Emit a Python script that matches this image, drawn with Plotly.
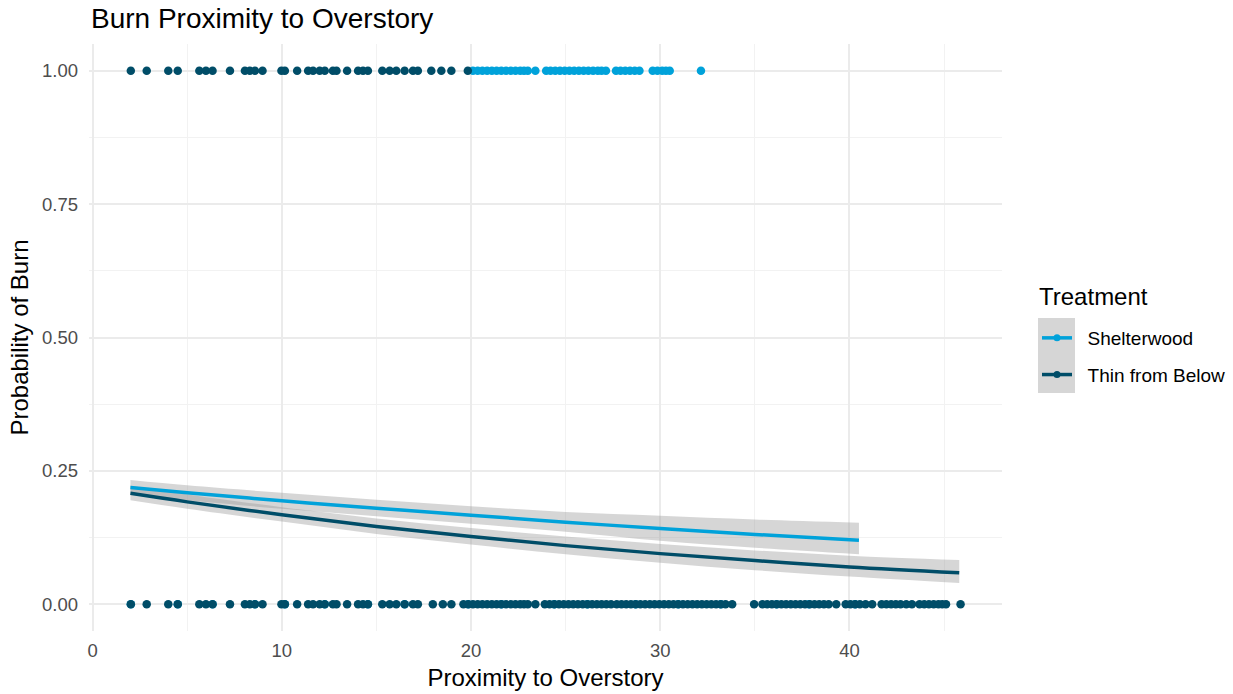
import plotly.graph_objects as go

# ---------------- data ----------------
thin_one = [2.02, 2.86, 4.0, 4.5, 5.64, 5.99, 6.34, 7.26, 8.05, 8.31, 8.58, 8.98, 9.98, 10.16,
            10.81, 11.39, 11.65, 12.0, 12.27, 12.7, 12.89, 13.45, 14.03, 14.29, 14.55, 15.31,
            15.7, 16.05, 16.49, 16.93, 17.19, 17.9, 18.43, 18.96, 19.83]

shelter_one = [20.1, 20.35, 20.6, 20.85, 21.1, 21.35, 21.6, 21.85, 22.1, 22.35, 22.6, 22.8, 23.0,
               23.4,
               23.97, 24.2, 24.45, 24.7, 24.95, 25.2, 25.45, 25.7, 25.95, 26.2, 26.45, 26.7, 26.9, 27.13,
               27.66, 27.9, 28.15, 28.4, 28.65, 28.9,
               29.6, 29.85, 30.1, 30.3, 30.5,
               32.15]

thin_zero = [2.02, 2.86, 4.0, 4.5, 5.64, 5.99, 6.34, 7.26, 8.05, 8.31, 8.58, 8.98, 9.98, 10.16,
             10.81, 11.39, 11.65, 12.0, 12.27, 12.7, 12.89, 13.45, 14.03, 14.29, 14.55, 15.31,
             15.7, 16.05, 16.49, 16.93, 17.19, 17.98, 18.51, 18.96,
             19.6, 19.85, 20.1, 20.35, 20.6, 20.85, 21.1, 21.35, 21.6, 21.85, 22.1, 22.35, 22.6, 22.8, 23.0,
             23.4,
             23.9, 24.15, 24.4, 24.65, 24.9, 25.15, 25.4, 25.65, 25.9, 26.15, 26.4, 26.65, 26.9, 27.15, 27.4,
             27.7, 27.95, 28.2, 28.45, 28.7, 28.95, 29.2, 29.45, 29.7, 29.95, 30.2, 30.45, 30.7, 30.95,
             31.2, 31.45, 31.7, 31.95, 32.2, 32.45, 32.7, 32.95, 33.2, 33.45, 33.8,
             34.96,
             35.4, 35.65, 35.9, 36.15, 36.4, 36.65, 36.9, 37.15, 37.4, 37.65, 37.9, 38.15, 38.4, 38.65, 38.9,
             39.3,
             39.8, 40.05, 40.3, 40.55, 40.85,
             41.2,
             41.7, 41.95, 42.2, 42.45, 42.7, 43.0, 43.3,
             43.7, 43.95, 44.2, 44.45, 44.7, 44.9, 45.1,
             45.87]

shelter_zero = [2.02, 4.5, 6.34, 8.58, 10.16, 12.27, 14.55, 16.49, 19.85, 21.6, 24.4, 26.15,
                28.7, 30.95, 33.2, 36.15, 37.85, 40.3]

# fitted logistic curves with confidence bands
shelter_fit_x = [2, 5, 10, 15, 20, 25, 30, 35, 40.5]
shelter_fit = [0.219, 0.209, 0.194, 0.180, 0.167, 0.154, 0.142, 0.131, 0.120]
shelter_lo = [0.205, 0.195, 0.179, 0.165, 0.151, 0.136, 0.119, 0.106, 0.094]
shelter_hi = [0.233, 0.223, 0.209, 0.196, 0.184, 0.173, 0.166, 0.159, 0.153]

thin_fit_x = [2, 5, 10, 15, 20, 25, 30, 35, 40, 45.8]
thin_fit = [0.208, 0.192, 0.168, 0.146, 0.127, 0.110, 0.095, 0.082, 0.070, 0.059]
thin_lo = [0.195, 0.179, 0.155, 0.132, 0.112, 0.094, 0.078, 0.064, 0.052, 0.040]
thin_hi = [0.222, 0.206, 0.182, 0.161, 0.143, 0.127, 0.113, 0.101, 0.091, 0.083]

series_names = ["Shelterwood", "Thin from Below"]
colors = {"Shelterwood": "#00A2DA", "Thin from Below": "#004D68"}
band_color = "rgba(153,153,153,0.4)"

x_ticks = [0, 10, 20, 30, 40]
y_ticks = [0, 0.25, 0.5, 0.75, 1.0]
y_tick_labels = ["0.00", "0.25", "0.50", "0.75", "1.00"]

FONT = "Liberation Sans"
W, H = 1233, 694
L, R, T, B = 89, 231, 44, 63
PW, PH = W - L - R, H - T - B

# ---------------- figure ----------------
fig = go.Figure()

# points
fig.add_trace(go.Scatter(x=shelter_one + shelter_zero,
                         y=[1] * len(shelter_one) + [0] * len(shelter_zero),
                         mode="markers", marker=dict(color=colors["Shelterwood"], size=8.5),
                         showlegend=False, hoverinfo="skip"))
fig.add_trace(go.Scatter(x=thin_one + thin_zero,
                         y=[1] * len(thin_one) + [0] * len(thin_zero),
                         mode="markers", marker=dict(color=colors["Thin from Below"], size=8.5),
                         showlegend=False, hoverinfo="skip"))

# bands
for fx, lo, hi in [(shelter_fit_x, shelter_lo, shelter_hi), (thin_fit_x, thin_lo, thin_hi)]:
    fig.add_trace(go.Scatter(x=fx, y=lo, mode="lines", line=dict(width=0, shape="spline"),
                             showlegend=False, hoverinfo="skip"))
    fig.add_trace(go.Scatter(x=fx, y=hi, mode="lines", line=dict(width=0, shape="spline"),
                             fill="tonexty", fillcolor=band_color,
                             showlegend=False, hoverinfo="skip"))

# fit lines
for name, fx, fy in [("Shelterwood", shelter_fit_x, shelter_fit),
                     ("Thin from Below", thin_fit_x, thin_fit)]:
    fig.add_trace(go.Scatter(x=fx, y=fy, mode="lines",
                             line=dict(color=colors[name], width=3.5, shape="spline"),
                             showlegend=False))

# legend entries (leading spaces mimic ggplot's key-to-label gap)
for name in series_names:
    fig.add_trace(go.Scatter(x=[None], y=[None], mode="lines+markers",
                             name="\u00a0\u00a0" + name,
                             legendgroup=name,
                             line=dict(color=colors[name], width=3.5),
                             marker=dict(color=colors[name], size=7)))

# gray legend key background
fig.add_shape(type="rect", xref="paper", yref="paper",
              x0=(1038 - L) / PW, x1=(1075 - L) / PW,
              y0=(H - B - 393) / PH, y1=(H - B - 318) / PH,
              fillcolor="#D6D6D6", line=dict(width=0), layer="below")

# legend title as annotation
fig.add_annotation(text="Treatment", xref="paper", yref="paper",
                   x=(1037 - L) / PW, xanchor="left",
                   y=(H - B - 296) / PH, yanchor="middle", showarrow=False,
                   font=dict(size=24, family=FONT, color="#000000"))

axis_common = dict(showline=False, zeroline=False, ticks="",
                   gridcolor="#EBEBEB", gridwidth=1.6,
                   minor=dict(showgrid=True, gridcolor="#F2F2F2", gridwidth=0.8),
                   tickfont=dict(size=18.5, color="#4D4D4D", family=FONT),
                   title_font=dict(size=24, color="#000000", family=FONT))

fig.update_xaxes(range=[-0.19, 48.06], tickvals=x_ticks,
                 minor_tickvals=[5, 15, 25, 35, 45], ticklabelstandoff=6,
                 title_text="Proximity to Overstory", title_standoff=9, **axis_common)
fig.update_yaxes(range=[-0.05, 1.05], tickvals=y_ticks, ticktext=y_tick_labels,
                 minor_tickvals=[0.125, 0.375, 0.625, 0.875], ticklabelstandoff=10,
                 title_text="Probability of Burn", title_standoff=6, **axis_common)

fig.update_layout(
    width=W, height=H,
    margin=dict(l=L, r=R, t=T, b=B, autoexpand=False),
    plot_bgcolor="white", paper_bgcolor="white",
    font=dict(family=FONT, color="#000000"),
    title=dict(text="Burn Proximity to Overstory", x=91 / W, xanchor="left",
               y=1 - 18 / H, yanchor="middle",
               font=dict(size=28, color="#000000", family=FONT)),
    legend=dict(x=(1037 - L) / PW, xanchor="left", y=(H - B - 356.5) / PH, yanchor="middle",
                bgcolor="rgba(0,0,0,0)", traceorder="grouped", tracegroupgap=9,
                itemwidth=30,
                font=dict(size=19, family=FONT, color="#000000")),
    showlegend=True,
)

fig.write_html("out.html")
